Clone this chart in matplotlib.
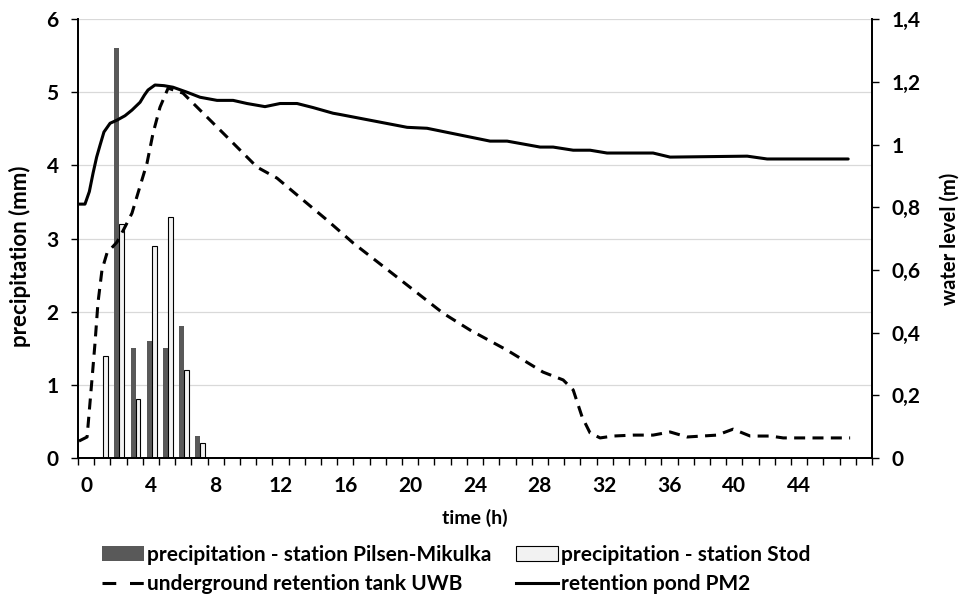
import matplotlib
matplotlib.use("Agg")
import matplotlib.pyplot as plt
from matplotlib.patches import Patch
from matplotlib.lines import Line2D
from matplotlib.ticker import FixedLocator, FuncFormatter
import numpy as np

plt.rcParams['font.family'] = ['Lato', 'DejaVu Sans']
plt.rcParams['font.weight'] = 'bold'

# --- data ---
hours = list(range(0, 49))
tick_hours = [0, 4, 8, 12, 16, 20, 24, 28, 32, 36, 40, 44]
tick_labels = [str(h) for h in tick_hours]

bar_hours = [1, 2, 3, 4, 5, 6, 7]
precip_pilsen = [0.0, 5.6, 1.5, 1.6, 1.5, 1.8, 0.3]
precip_stod = [1.4, 3.2, 0.8, 2.9, 3.3, 1.2, 0.2]

uwb_t = [0.06, 0.56, 0.86, 1.05, 1.23, 1.48, 1.79, 2.41, 2.90, 3.33, 3.70, 4.26,
         4.63, 5.06, 5.56, 6.48, 7.53, 9.20, 11.05, 12.28, 13.89, 15.37, 16.98,
         19.69, 22.53, 24.20, 26.48, 28.70, 29.94, 30.56, 31.11, 31.60, 32.22,
         33.02, 34.26, 35.49, 36.54, 37.59, 39.44, 40.43, 41.48, 42.72, 43.52, 47.65]
uwb_level = [0.054, 0.067, 0.249, 0.367, 0.494, 0.600, 0.654, 0.689, 0.737, 0.781,
             0.845, 0.941, 1.036, 1.119, 1.180, 1.164, 1.110, 1.024, 0.928, 0.893,
             0.823, 0.759, 0.686, 0.577, 0.462, 0.408, 0.344, 0.274, 0.249, 0.217,
             0.131, 0.080, 0.064, 0.070, 0.073, 0.073, 0.083, 0.067, 0.073, 0.092,
             0.070, 0.070, 0.064, 0.064]

pm2_t = [0.06, 0.43, 0.70, 0.93, 1.15, 1.36, 1.60, 1.98, 2.41, 2.90, 3.33, 3.83,
         4.10, 4.32, 4.75, 5.30, 5.86, 6.73, 7.53, 8.58, 9.57, 10.43, 11.54, 12.47,
         13.52, 14.51, 15.74, 16.17, 20.31, 21.54, 25.43, 26.48, 28.52, 29.32,
         30.56, 31.60, 32.65, 35.49, 36.54, 41.30, 42.53, 47.53]
pm2_level = [0.810, 0.810, 0.850, 0.909, 0.960, 0.998, 1.040, 1.068, 1.078, 1.092,
             1.110, 1.135, 1.158, 1.174, 1.190, 1.188, 1.183, 1.167, 1.151, 1.141,
             1.141, 1.131, 1.121, 1.131, 1.131, 1.118, 1.100, 1.096, 1.055, 1.052,
             1.011, 1.011, 0.992, 0.992, 0.982, 0.982, 0.973, 0.973, 0.960, 0.963,
             0.954, 0.954]

# --- figure ---
fig = plt.figure(figsize=(9.63, 6.0), dpi=100)
ax = fig.add_axes([0.081, 0.2367, 0.8245, 0.7313])

bw = 0.3
bx = np.array(bar_hours)
ax.bar(bx + 0.40, precip_pilsen, width=bw, color='#595959', edgecolor='none', zorder=2)
ax.bar(bx + 0.70, precip_stod, width=bw, color='#f2f2f2', edgecolor='black',
       linewidth=0.8, zorder=2)

ax.set_xlim(0, len(hours))
ax.set_ylim(0, 6)
ax.set_yticks([0, 1, 2, 3, 4, 5, 6])
ax.yaxis.grid(True, color='#d9d9d9', linewidth=0.9, zorder=0)
ax.set_axisbelow(True)

ax.xaxis.set_major_locator(FixedLocator([h + 0.5 for h in tick_hours]))
ax.set_xticklabels(tick_labels)
ax.xaxis.set_minor_locator(FixedLocator(hours + [len(hours)]))
ax.tick_params(axis='x', which='major', length=0, pad=13, labelsize=15)
ax.tick_params(axis='x', which='minor', length=5, width=1.0, direction='out')
ax.tick_params(axis='y', length=5, width=1.0, direction='out', pad=9, labelsize=15)

ax.spines['top'].set_visible(False)
for s in ['left', 'right', 'bottom']:
    ax.spines[s].set_linewidth(1.3)

ax.set_ylabel('precipitation (mm)', fontsize=16, fontweight='bold')
ax.yaxis.set_label_coords(-0.059, 0.46)
ax.set_xlabel('time (h)', fontsize=14, fontweight='bold', labelpad=9)

ax2 = ax.twinx()
ax2.plot(uwb_t, uwb_level, color='black', linewidth=2.2, linestyle=(0, (3.6, 2.4)),
         solid_joinstyle='round', dash_capstyle='butt', zorder=3)
ax2.plot(pm2_t, pm2_level, color='black', linewidth=2.2, solid_joinstyle='round',
         solid_capstyle='round', zorder=3)
ax2.set_ylim(0, 1.4)
ax2.set_yticks([0, 0.2, 0.4, 0.6, 0.8, 1.0, 1.2, 1.4])
ax2.yaxis.set_major_formatter(FuncFormatter(lambda v, p: ('%g' % round(v, 1)).replace('.', ',')))
ax2.tick_params(axis='y', length=5, width=1.0, direction='out', pad=9, labelsize=15)
ax2.spines['top'].set_visible(False)
for s in ['left', 'right', 'bottom']:
    ax2.spines[s].set_linewidth(1.3)
ax2.set_ylabel('water level (m)', fontsize=14.5, fontweight='bold', labelpad=14)

handles = [
    Patch(facecolor='#595959', edgecolor='none'),
    Line2D([0], [0], color='black', linewidth=2.2, linestyle=(0, (4.5, 4.5))),
    Patch(facecolor='#f2f2f2', edgecolor='black', linewidth=0.8),
    Line2D([0], [0], color='black', linewidth=2.2),
]
labels = [
    'precipitation - station Pilsen-Mikulka',
    'underground retention tank UWB',
    'precipitation - station Stod',
    'retention pond PM2',
]
fig.legend(handles, labels, ncol=2, loc='upper left', bbox_to_anchor=(0.106, 0.092),
           frameon=False, fontsize=15, handlelength=2.0, handleheight=0.7,
           handletextpad=0.15, columnspacing=1.2, labelspacing=0.45, borderpad=0.0,
           borderaxespad=0.0)

fig.savefig('out.png', dpi=100)
